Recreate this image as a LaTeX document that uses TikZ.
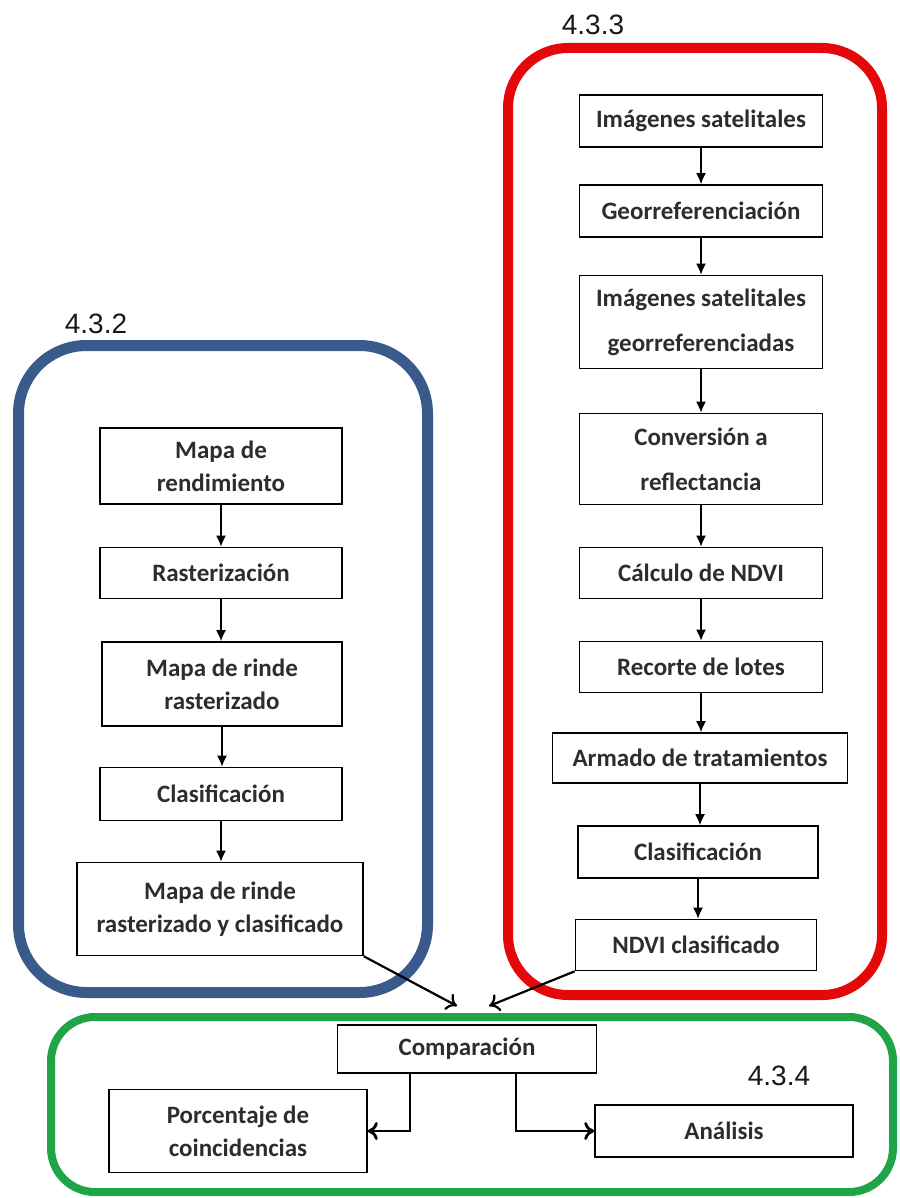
\documentclass[tikz,border=0pt]{standalone}
\usepackage{fontspec}
\setmainfont{Carlito}
\newfontfamily\numfont{Liberation Sans}
\usetikzlibrary{arrows.meta}
\definecolor{myblue}{RGB}{58,90,140}
\definecolor{myred}{RGB}{228,8,10}
\definecolor{mygreen}{RGB}{32,164,72}
\definecolor{mytext}{RGB}{45,45,45}

\begin{document}
\begin{tikzpicture}[x=0.5pt, y=-0.5pt,
    box/.style={draw, line width=0.8pt, inner sep=2pt, align=center, text=mytext,
      font=\bfseries\fontsize{12.5}{16.5}\selectfont},
    widebox/.style={box, font=\bfseries\fontsize{12.5}{22.5}\selectfont},
    arr/.style={-{Latex[length=5.5pt, width=5pt]}, line width=0.8pt},
    bigarr/.style={-{To[length=5pt, width=9pt]}, line width=1.4pt},
    frame/.style={line width=#1},
    num/.style={font=\numfont\fontsize{14}{16}\selectfont, text=black!90}]
  \useasboundingbox (0,0) rectangle (899,1198);

  % the three groups
  \draw[frame=5.5pt, color=myblue, rounded corners=34pt] (18.5,345.5) rectangle (427.5,992.5);
  \draw[frame=5pt, color=myred, rounded corners=30pt] (508,48) rectangle (882,995);
  \draw[frame=4pt, color=mygreen, rounded corners=22pt] (51,1017) rectangle (893,1192);
  \node[num] (n432) at (96,324) {4.3.2};
  \node[num] (n433) at (593,25) {4.3.3};
  \node[num] (n434) at (779,1076) {4.3.4};

  % 4.3.2
  \node[box, minimum width=121pt, minimum height=38pt] (map1) at (221,466) {Mapa de\\rendimiento};
  \node[box, minimum width=121pt, minimum height=25.5pt] (rast) at (221,573) {Rasterización};
  \node[box, minimum width=120pt, minimum height=42pt] (maprr) at (222,684) {Mapa de rinde\\rasterizado};
  \node[box, minimum width=121pt, minimum height=26.5pt] (clas1) at (221,794) {Clasificación};
  \node[box, minimum width=143pt, minimum height=46.5pt] (maprc) at (220,909) {Mapa de rinde\\rasterizado y clasificado};

  % 4.3.3
  \node[box, minimum width=121.5pt, minimum height=26pt] (img) at (701,121) {Imágenes satelitales};
  \node[box, minimum width=121.5pt, minimum height=26pt] (geo) at (701,211) {Georreferenciación};
  \node[widebox, minimum width=121.5pt, minimum height=46.5pt] (imggeo) at (701,322) {Imágenes satelitales\\georreferenciadas};
  \node[widebox, minimum width=121.5pt, minimum height=45.5pt] (conv) at (701,459) {Conversión a\\reflectancia};
  \node[box, minimum width=121.5pt, minimum height=25.5pt] (ndvi) at (701,573) {Cálculo de NDVI};
  \node[box, minimum width=121.5pt, minimum height=25.5pt] (rec) at (701,667) {Recorte de lotes};
  \node[box, minimum width=147.5pt, minimum height=25pt] (arm) at (700,758) {Armado de tratamientos};
  \node[box, minimum width=120pt, minimum height=26pt] (clas2) at (698,852) {Clasificación};
  \node[box, minimum width=120.5pt, minimum height=25.5pt] (ndvic) at (696,945) {NDVI clasificado};

  % 4.3.4
  \node[box, minimum width=129.5pt, minimum height=24pt] (comp) at (467,1049) {Comparación};
  \node[box, minimum width=129pt, minimum height=41.5pt] (porc) at (238,1131) {Porcentaje de\\coincidencias};
  \node[box, minimum width=129pt, minimum height=26pt] (anal) at (724,1131) {Análisis};

  \foreach \a/\b in {map1/rast, rast/maprr, maprr/clas1, clas1/maprc,
                     img/geo, geo/imggeo, imggeo/conv, conv/ndvi, ndvi/rec, rec/arm, arm/clas2, clas2/ndvic}
    \draw[arr] (\a.south) -- (\a.south |- \b.north);

  \coordinate (inL) at (457,1006);
  \coordinate (inR) at (489,1006);
  \draw[bigarr, line width=1.1pt] (maprc.south east) -- (inL);
  \draw[bigarr, line width=1.1pt] (ndvic.south west) -- (inR);
  \draw[bigarr] ([xshift=-28.5pt]comp.south) |- (porc.east);
  \draw[bigarr] ([xshift=24.5pt]comp.south) |- (anal.west);
\end{tikzpicture}
\end{document}
